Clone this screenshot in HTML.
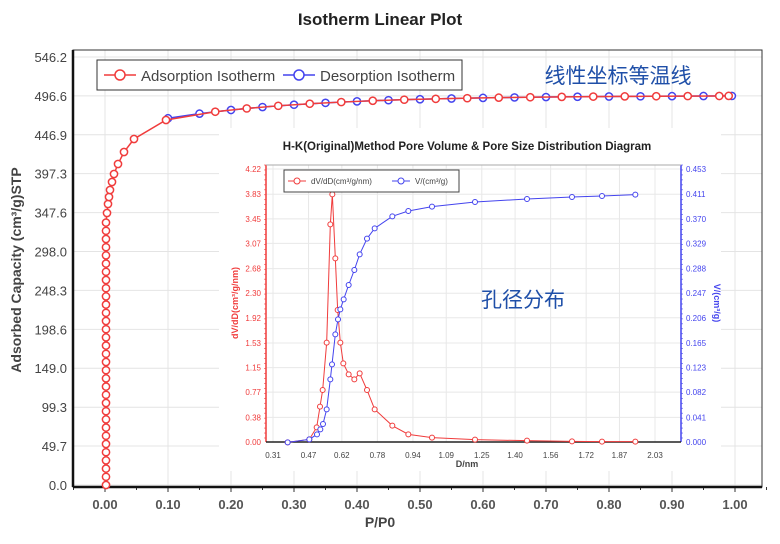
<!DOCTYPE html>
<html><head><meta charset="utf-8"><style>
body{margin:0;background:#fff;width:780px;height:539px;overflow:hidden}
text{font-family:"Liberation Sans","Noto Sans CJK SC",sans-serif}
</style></head><body>
<svg id="s" width="780" height="539" xmlns="http://www.w3.org/2000/svg"></svg>
<script>
const s=document.getElementById('s');let h='';
const L=73,R=762,T=50,B=487;
const X=p=>105+630*p, Y=v=>485-v*(428/546.2);
h+=`<text x="380" y="25" text-anchor="middle" font-size="17" font-weight="bold" fill="#222">Isotherm Linear Plot</text>`;
for(let i=0;i<=10;i++){h+=`<line x1="${X(i/10)}" y1="${T}" x2="${X(i/10)}" y2="${B}" stroke="#e4e4e4"/>`;}
const yt=[0,49.7,99.3,149.0,198.6,248.3,298.0,347.6,397.3,446.9,496.6,546.2];
yt.forEach(v=>{h+=`<line x1="${L}" y1="${Y(v)}" x2="${R}" y2="${Y(v)}" stroke="#e4e4e4"/>`;
h+=`<text x="${L-6}" y="${Y(v)+5}" text-anchor="end" font-size="13" fill="#444">${v.toFixed(1)}</text>`;});
for(let i=0;i<=10;i++){h+=`<text x="${X(i/10)}" y="${B+22}" text-anchor="middle" font-size="13" font-weight="bold" fill="#555">${(i/10).toFixed(2)}</text>`;}
for(let i=-1;i<=21;i++){let x=X(i/20);h+=`<line x1="${x}" y1="${B}" x2="${x}" y2="${B+(i%2?3:5)}" stroke="#333"/>`;}
h+=`<rect x="${L}" y="${T}" width="${R-L}" height="${B-T}" fill="none" stroke="#333" stroke-width="1"/>`;
h+=`<line x1="${L}" y1="${T}" x2="${L}" y2="${B}" stroke="#111" stroke-width="2.5"/><line x1="${L}" y1="${B}" x2="${R}" y2="${B}" stroke="#111" stroke-width="2.5"/>`;
h+=`<text x="380" y="527" text-anchor="middle" font-size="14" font-weight="bold" fill="#444">P/P0</text>`;
h+=`<text transform="translate(21,270) rotate(-90)" text-anchor="middle" font-size="14" font-weight="bold" fill="#444">Adsorbed Capacity (cm³/g)STP</text>`;
let ad=[];for(let y=485;y>=216;y-=8.2)ad.push([106,y]);
ad=ad.concat([[107,213],[108,204],[109,197],[110,190],[112,182],[114,174],[118,164],[124,152],[134,139],[166,120]]);
const f=p=>497-29*Math.exp(-(p-0.1)/0.22);
let adt=[],de=[];for(let p=0.15;p<=1.0001;p+=0.05){adt.push([X(p+0.025>1?0.99:p+0.025),Y(f(p+0.025))]);}
for(let p=0.1;p<=1.0001;p+=0.05){de.push([X(p>0.995?0.995:p),Y(f(p))]);}
ad=ad.concat(adt);
const poly=(a,c,r,sw)=>`<polyline points="${a.map(q=>q.join(',')).join(' ')}" fill="none" stroke="${c}" stroke-width="${sw}"/>`+a.map(q=>`<circle cx="${q[0]}" cy="${q[1]}" r="${r}" fill="#fff" stroke="${c}" stroke-width="${sw}"/>`).join('');
h+=poly(de,'#4444ee',3.6,1.5);
h+=poly(ad,'#f03c3c',3.6,1.5);
h+=`<rect x="97" y="60" width="365" height="30" fill="#fff" stroke="#333"/>`;
h+=`<line x1="104" y1="75" x2="136" y2="75" stroke="#f03c3c" stroke-width="1.5"/><circle cx="120" cy="75" r="5" fill="#fff" stroke="#f03c3c" stroke-width="1.5"/><text x="141" y="81" font-size="15" fill="#444">Adsorption Isotherm</text>`;
h+=`<line x1="283" y1="75" x2="315" y2="75" stroke="#4444ee" stroke-width="1.5"/><circle cx="299" cy="75" r="5" fill="#fff" stroke="#4444ee" stroke-width="1.5"/><text x="320" y="81" font-size="15" fill="#444">Desorption Isotherm</text>`;
h+=`<text x="618" y="83" text-anchor="middle" font-size="21" fill="#1f4fa8">线性坐标等温线</text>`;
h+=`<rect x="219" y="128" width="502" height="343" fill="#fff"/>`;
const iL=266,iR=681,iT=165,iB=442;
const DX=d=>273+(d-0.31)*222.1, LY=v=>442-v*(273/4.22);
h+=`<text x="467" y="150" text-anchor="middle" font-size="11.5" font-weight="bold" fill="#222">H-K(Original)Method Pore Volume &amp; Pore Size Distribution Diagram</text>`;
const dt=[0.31,0.47,0.62,0.78,0.94,1.09,1.25,1.40,1.56,1.72,1.87,2.03];
dt.forEach(d=>{h+=`<line x1="${DX(d)}" y1="${iT}" x2="${DX(d)}" y2="${iB}" stroke="#e8e8e8"/><text x="${DX(d)}" y="${iB+16}" text-anchor="middle" font-size="8" fill="#444">${d.toFixed(2)}</text>`;});
const lt=[0,0.38,0.77,1.15,1.53,1.92,2.30,2.68,3.07,3.45,3.83,4.22],rt=['0.000','0.041','0.082','0.123','0.165','0.206','0.247','0.288','0.329','0.370','0.411','0.453'];
lt.forEach((v,i)=>{const y=LY(v);h+=`<line x1="${iL}" y1="${y}" x2="${iR}" y2="${y}" stroke="#e8e8e8"/><text x="${iL-5}" y="${y+3}" text-anchor="end" font-size="8" fill="#f03c3c">${v.toFixed(2)}</text><text x="${iR+5}" y="${y+3}" font-size="8" fill="#4444ee">${rt[i]}</text>`;});
for(let y=iT;y<=iB;y+=273/55){h+=`<line x1="${iL-2}" y1="${y}" x2="${iL}" y2="${y}" stroke="#f03c3c" stroke-width=".6"/><line x1="${iR}" y1="${y}" x2="${iR+2}" y2="${y}" stroke="#4444ee" stroke-width=".6"/>`;}
h+=`<line x1="${iL}" y1="${iT}" x2="${iL}" y2="${iB}" stroke="#f03c3c" stroke-width="1.5"/><line x1="${iR}" y1="${iT}" x2="${iR}" y2="${iB}" stroke="#4444ee" stroke-width="1.5"/><line x1="${iL}" y1="${iB}" x2="${iR}" y2="${iB}" stroke="#222" stroke-width="1.5"/><line x1="${iL}" y1="${iT}" x2="${iR}" y2="${iT}" stroke="#aaa"/>`;
h+=`<text x="467" y="467" text-anchor="middle" font-size="9" font-weight="bold" fill="#444">D/nm</text>`;
h+=`<text transform="translate(238,303) rotate(-90)" text-anchor="middle" font-size="9" font-weight="bold" fill="#f03c3c">dV/dD(cm³/g/nm)</text>`;
h+=`<text transform="translate(714,303) rotate(90)" text-anchor="middle" font-size="9" font-weight="bold" fill="#4444ee">V/(cm³/g)</text>`;
const cv=a=>a.map(q=>[220+q[0]/3,130+q[1]/3]);
const red=cv([[203,937],[268,928],[290,892],[300,830],[308,780],[320,638],[331,283],[337,193],[346,385],[353,540],[361,638],[370,700],[386,733],[403,748],[419,730],[441,780],[464,838],[517,887],[565,913],[636,923],[765,929],[921,932],[1056,934],[1146,935],[1246,935]]);
const blue=cv([[203,937],[268,928],[291,913],[301,898],[309,882],[320,838],[331,748],[336,703],[346,613],[354,568],[361,538],[371,508],[386,465],[403,420],[419,373],[441,326],[464,295],[517,259],[565,243],[636,230],[765,216],[921,207],[1056,201],[1146,198],[1246,194]]);
h+=poly(red,'#f03c3c',2.5,1);
h+=poly(blue,'#4444ee',2.5,1);
h+=`<rect x="284" y="170" width="175" height="22" fill="#fff" stroke="#444"/>`;
h+=`<line x1="288" y1="181" x2="306" y2="181" stroke="#f03c3c"/><circle cx="297" cy="181" r="3" fill="#fff" stroke="#f03c3c"/><text x="311" y="184" font-size="8" fill="#444">dV/dD(cm³/g/nm)</text>`;
h+=`<line x1="392" y1="181" x2="410" y2="181" stroke="#4444ee"/><circle cx="401" cy="181" r="3" fill="#fff" stroke="#4444ee"/><text x="415" y="184" font-size="8" fill="#444">V/(cm³/g)</text>`;
h+=`<text x="523" y="307" text-anchor="middle" font-size="21" fill="#1f4fa8">孔径分布</text>`;
s.innerHTML=h;
</script>
</body></html>
